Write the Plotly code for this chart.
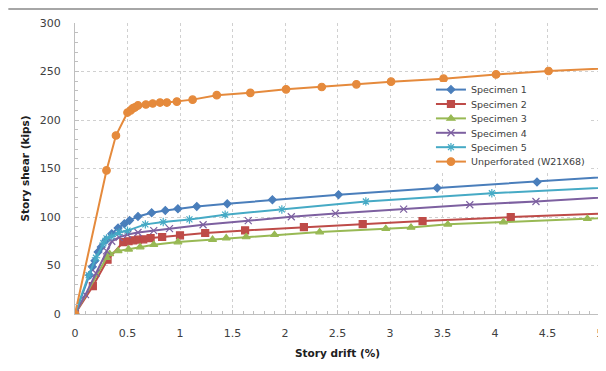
import plotly.graph_objects as go

# ---- data (story drift %, story shear kips) ----
s1_x = [0, 0.14, 0.165, 0.19, 0.22, 0.25, 0.295, 0.35, 0.41, 0.47, 0.52, 0.60, 0.73, 0.86, 0.98, 1.16, 1.45, 1.88, 2.51, 3.45, 4.40, 5.5]
s1_y = [0, 40, 48.6, 55, 64, 69, 76, 82.8, 88.6, 93, 96.5, 100.6, 104.4, 106.8, 108.5, 110.9, 113.6, 117.7, 123, 130, 136, 144.3]

s2_x = [0, 0.17, 0.31, 0.46, 0.51, 0.555, 0.60, 0.65, 0.72, 0.83, 1.0, 1.24, 1.62, 2.18, 2.74, 3.31, 4.15, 5.5]
s2_y = [0, 28.7, 56, 74.2, 75, 76, 76.7, 77, 78.3, 79.4, 81.1, 83.5, 86.2, 89.6, 92.7, 95.8, 99.9, 105.4]

s3_x = [0, 0.30, 0.33, 0.41, 0.51, 0.62, 0.75, 0.98, 1.31, 1.44, 1.63, 1.90, 2.33, 2.96, 3.20, 3.55, 4.08, 4.88, 5.5]
s3_y = [0, 58, 62, 65, 66.7, 69, 71.5, 74.2, 76.7, 78.3, 79.4, 81.8, 84.5, 88, 89.3, 92.4, 94.8, 98.3, 101]

s4_x = [0, 0.1, 0.2, 0.3, 0.35, 0.42, 0.5, 0.6, 0.75, 0.9, 1.22, 1.65, 2.06, 2.48, 3.13, 3.76, 4.39, 5.5]
s4_y = [0, 20, 42, 65, 75, 79, 82, 84, 86, 88, 92, 96.2, 100.3, 103.7, 108.1, 112.6, 116, 123]

s5_x = [0, 0.13, 0.2, 0.27, 0.3, 0.35, 0.42, 0.5, 0.67, 0.84, 1.09, 1.43, 1.97, 2.77, 3.97, 5.5]
s5_y = [0, 40, 58, 73, 78, 80, 84, 86, 92.4, 94.8, 97.5, 102.4, 107.8, 116, 124.5, 132.7]

un_x = [0, 0.30, 0.39, 0.50, 0.53, 0.55, 0.57, 0.60, 0.675, 0.74, 0.81, 0.875, 0.97, 1.12, 1.35, 1.67, 2.01, 2.35, 2.68, 3.01, 3.51, 4.01, 4.51, 5.5]
un_y = [0, 148, 184, 207.7, 210, 212, 213, 215, 216, 217, 218, 218, 219, 221, 225.6, 228, 231.6, 234, 236.8, 239.5, 242.6, 247, 250.5, 255.6]

names = ["Specimen 1", "Specimen 2", "Specimen 3", "Specimen 4", "Specimen 5", "Unperforated (W21X68)"]
x_ticks = [0, 0.5, 1, 1.5, 2, 2.5, 3, 3.5, 4, 4.5, 5]
x_tick_labels = ["0", "0.5", "1", "1.5", "2", "2.5", "3", "3.5", "4", "4.5", "5"]
y_ticks = [0, 50, 100, 150, 200, 250, 300]

series = [(s1_x, s1_y), (s2_x, s2_y), (s3_x, s3_y), (s4_x, s4_y), (s5_x, s5_y), (un_x, un_y)]
colors = ["#4A7EBB", "#BE4B48", "#98B954", "#7D60A0", "#46AAC5", "#E58A3C"]
symbols = ["diamond", "square", "triangle-up", "x-thin-open", "asterisk-open", "circle"]
sizes = [6, 7, 7, 7, 7, 7.5]

fig = go.Figure()
for (xs, ys), name, c, sym, sz in zip(series, names, colors, symbols, sizes):
    fig.add_trace(go.Scatter(
        x=xs, y=ys, name=name, mode="lines+markers",
        line=dict(color=c, width=2),
        marker=dict(symbol=sym, size=sz, color=c, line=dict(color=c, width=1.2)),
    ))

# the page body adds an 8px offset, so margins are set to place the plot area as in the reference
fig.update_layout(
    width=606, height=371,
    margin=dict(l=67, r=14, t=15, b=65, autoexpand=False),
    paper_bgcolor="white", plot_bgcolor="white",
    font=dict(family="DejaVu Sans", size=11, color="#404040"),
    showlegend=True,
    legend=dict(x=0.678, y=0.821, xanchor="left", yanchor="top",
                bgcolor="white", font=dict(size=9.5, color="#404040"),
                borderwidth=0, tracegroupgap=0),
    shapes=[dict(type="line", xref="paper", yref="paper",
                 x0=-0.127, x1=1.01, y0=1.048, y1=1.048,
                 line=dict(color="#888888", width=1.5))],
)
fig.update_xaxes(
    range=[0, 5], tickvals=x_ticks, ticktext=x_tick_labels, automargin=False,
    showgrid=True, gridcolor="#D0D0D0", griddash="dot", gridwidth=1,
    showline=True, linecolor="#BFBFBF", linewidth=1, zeroline=False,
    ticks="inside", ticklen=4, tickcolor="#BFBFBF", ticklabelstandoff=9,
    minor=dict(dtick=0.1, ticks="inside", ticklen=3, tickcolor="#BFBFBF", showgrid=False),
    title=dict(text="<b>Story drift (%)</b>", font=dict(size=10.5, color="#202020"), standoff=10),
)
fig.update_yaxes(
    range=[0, 300], tickvals=y_ticks, automargin=False,
    showgrid=True, gridcolor="#D0D0D0", griddash="dot", gridwidth=1,
    showline=True, linecolor="#BFBFBF", linewidth=1, zeroline=False,
    ticks="inside", ticklen=4, tickcolor="#BFBFBF", ticklabelstandoff=11,
    minor=dict(dtick=10, ticks="inside", ticklen=3, tickcolor="#BFBFBF", showgrid=False),
    title=dict(text="<b>Story shear (kips)</b>", font=dict(size=10.5, color="#202020"), standoff=8),
)

# tighten legend row spacing to match the reference's compact legend
post = """
(function(){
  var gd = document.getElementById('{plot_id}');
  function fix(){
    var leg = gd.querySelector('.legend'); if(!leg) return;
    var tr = leg.querySelectorAll('.traces'); if(!tr.length) return;
    var m = /translate\\(([-\\d.]+)[ ,]+([-\\d.]+)\\)/.exec(tr[0].getAttribute('transform') || '');
    var x0 = m ? parseFloat(m[1]) : 0, y0 = m ? parseFloat(m[2]) : 10;
    var gap = 14.4;
    tr.forEach(function(t, i){ t.setAttribute('transform', 'translate(' + x0 + ',' + (y0 + i * gap) + ')'); });
    var bg = leg.querySelector('.bg');
    if(bg){ bg.setAttribute('y', y0 - 8); bg.setAttribute('height', (tr.length - 1) * gap + 16); }
  }
  fix();
  if (gd.on) gd.on('plotly_afterplot', fix);
})();
"""

fig.write_html("out.html", post_script=post)
